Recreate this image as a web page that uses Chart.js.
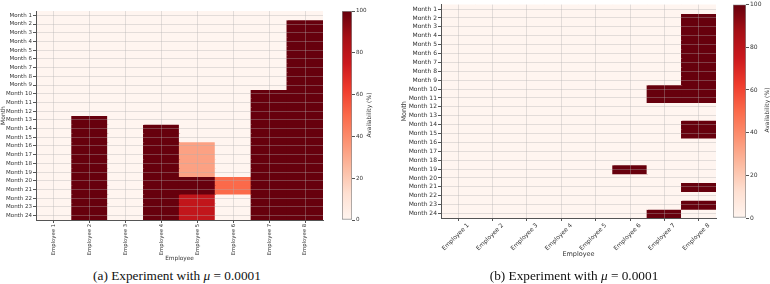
<!DOCTYPE html>
<html>
<head>
<meta charset="utf-8">
<script src="https://cdn.jsdelivr.net/npm/chart.js@4.4.1/dist/chart.umd.min.js"></script>
<style>
    body { margin: 0; background: #fff; width: 770px; height: 284px; position: relative; overflow: hidden; }
    .box { position: absolute; }
    .cbLabel {
        position: absolute; font-family: "DejaVu Sans", sans-serif; font-size: 6px; color: #333;
        transform: translate(-50%, -50%) rotate(-90deg); white-space: nowrap;
    }
    .caption {
        position: absolute; top: 268px; font-family: "Liberation Serif", "DejaVu Serif", serif;
        font-size: 13.3px; color: #111; transform: translateX(-50%); white-space: nowrap;
    }
</style>
</head>
<body>
<div class="box" style="left:0px; top:0px; width:326px; height:262px;"><canvas id="heatA"></canvas></div>
<div class="box" style="left:330px; top:0px; width:38px; height:262px;"><canvas id="barA"></canvas></div>
<div class="cbLabel" style="left:368px; top:115px;">Availability (%)</div>

<div class="box" style="left:400px; top:0px; width:319px; height:258px;"><canvas id="heatB"></canvas></div>
<div class="box" style="left:721px; top:0px; width:41px; height:258px;"><canvas id="barB"></canvas></div>
<div class="cbLabel" style="left:766px; top:110px;">Availability (%)</div>

<div class="caption" style="left:177px;">(a) Experiment with <i>μ</i> = 0.0001</div>
<div class="caption" style="left:574px;">(b) Experiment with <i>μ</i> = 0.0001</div>

<script>
    const months = ["Month 1", "Month 2", "Month 3", "Month 4", "Month 5", "Month 6", "Month 7", "Month 8",
        "Month 9", "Month 10", "Month 11", "Month 12", "Month 13", "Month 14", "Month 15", "Month 16",
        "Month 17", "Month 18", "Month 19", "Month 20", "Month 21", "Month 22", "Month 23", "Month 24"];
    const employees = ["Employee 1", "Employee 2", "Employee 3", "Employee 4",
        "Employee 5", "Employee 6", "Employee 7", "Employee 8"];
    const colorbarTicks = [0, 20, 40, 60, 80, 100];

    // availability (%) per month (rows) and employee (columns), experiment (a)
    const availabilityA = [
        [0, 0, 0, 0, 0, 0, 0, 0],
        [0, 0, 0, 0, 0, 0, 0, 100],
        [0, 0, 0, 0, 0, 0, 0, 100],
        [0, 0, 0, 0, 0, 0, 0, 100],
        [0, 0, 0, 0, 0, 0, 0, 100],
        [0, 0, 0, 0, 0, 0, 0, 100],
        [0, 0, 0, 0, 0, 0, 0, 100],
        [0, 0, 0, 0, 0, 0, 0, 100],
        [0, 0, 0, 0, 0, 0, 0, 100],
        [0, 0, 0, 0, 0, 0, 100, 100],
        [0, 0, 0, 0, 0, 0, 100, 100],
        [0, 0, 0, 0, 0, 0, 100, 100],
        [0, 100, 0, 0, 0, 0, 100, 100],
        [0, 100, 0, 100, 0, 0, 100, 100],
        [0, 100, 0, 100, 0, 0, 100, 100],
        [0, 100, 0, 100, 33, 0, 100, 100],
        [0, 100, 0, 100, 33, 0, 100, 100],
        [0, 100, 0, 100, 33, 0, 100, 100],
        [0, 100, 0, 100, 33, 0, 100, 100],
        [0, 100, 0, 100, 100, 50, 100, 100],
        [0, 100, 0, 100, 100, 50, 100, 100],
        [0, 100, 0, 100, 78, 0, 100, 100],
        [0, 100, 0, 100, 78, 0, 100, 100],
        [0, 100, 0, 100, 78, 0, 100, 100],
    ];

    // experiment (b)
    const availabilityB = [
        [0, 0, 0, 0, 0, 0, 0, 0],
        [0, 0, 0, 0, 0, 0, 0, 100],
        [0, 0, 0, 0, 0, 0, 0, 100],
        [0, 0, 0, 0, 0, 0, 0, 100],
        [0, 0, 0, 0, 0, 0, 0, 100],
        [0, 0, 0, 0, 0, 0, 0, 100],
        [0, 0, 0, 0, 0, 0, 0, 100],
        [0, 0, 0, 0, 0, 0, 0, 100],
        [0, 0, 0, 0, 0, 0, 0, 100],
        [0, 0, 0, 0, 0, 0, 100, 100],
        [0, 0, 0, 0, 0, 0, 100, 100],
        [0, 0, 0, 0, 0, 0, 0, 0],
        [0, 0, 0, 0, 0, 0, 0, 0],
        [0, 0, 0, 0, 0, 0, 0, 100],
        [0, 0, 0, 0, 0, 0, 0, 100],
        [0, 0, 0, 0, 0, 0, 0, 0],
        [0, 0, 0, 0, 0, 0, 0, 0],
        [0, 0, 0, 0, 0, 0, 0, 0],
        [0, 0, 0, 0, 0, 100, 0, 0],
        [0, 0, 0, 0, 0, 0, 0, 0],
        [0, 0, 0, 0, 0, 0, 0, 100],
        [0, 0, 0, 0, 0, 0, 0, 0],
        [0, 0, 0, 0, 0, 0, 0, 100],
        [0, 0, 0, 0, 0, 0, 100, 0],
    ];

    // matplotlib "Reds" colormap stops
    const REDS = [
        [255, 245, 240], [254, 224, 210], [252, 187, 161], [252, 146, 114], [251, 106, 74],
        [239, 59, 44], [203, 24, 29], [165, 15, 21], [103, 0, 13]
    ];

    function reds(v) {
        const t = Math.min(Math.max(v / 100, 0), 1) * (REDS.length - 1);
        const i = Math.min(Math.floor(t), REDS.length - 2);
        const f = t - i;
        const c = REDS[i].map((a, k) => Math.round(a + (REDS[i + 1][k] - a) * f));
        return `rgb(${c[0]}, ${c[1]}, ${c[2]})`;
    }

    const TEXT = "#333";
    const AXIS = "#555";
    const GRID = "rgba(175, 175, 175, 0.35)";
    const FONT = "DejaVu Sans";

    function makeHeatmap(id, grid, s) {
        // one stacked dataset per month row, each cell one unit high
        const datasets = months.map((m, i) => ({
            label: m,
            data: employees.map(() => 1),
            backgroundColor: grid[i].map(v => reds(v)),
            borderWidth: 0,
            inflateAmount: 0.6,
            barPercentage: 1,
            categoryPercentage: 1,
        }));

        new Chart(document.getElementById(id), {
            type: "bar",
            data: {labels: employees, datasets: datasets},
            options: {
                responsive: true,
                maintainAspectRatio: false,
                animation: false,
                devicePixelRatio: 1,
                layout: {padding: {top: s.top, right: 3, left: 0, bottom: 0}},
                plugins: {legend: {display: false}, tooltip: {enabled: false}},
                scales: {
                    x: {
                        stacked: true,
                        offset: true,
                        grid: {offset: false, z: 1, color: GRID, tickColor: AXIS, tickLength: 3},
                        border: {color: AXIS, z: 2},
                        ticks: {
                            minRotation: s.rot, maxRotation: s.rot, autoSkip: false, color: TEXT,
                            labelOffset: s.labelOffset, padding: 1,
                            font: {family: FONT, size: s.xFont},
                        },
                        title: {display: true, text: "Employee", color: TEXT, padding: 0, font: {family: FONT, size: s.xFont + 0.5}},
                        afterFit: (scale) => { scale.height = s.xHeight; },
                    },
                    y: {
                        type: "linear",
                        stacked: true,
                        reverse: true,
                        min: 0,
                        max: months.length,
                        afterBuildTicks: (scale) => { scale.ticks = months.map((m, i) => ({value: i + 0.5})); },
                        grid: {z: 1, color: GRID, tickColor: AXIS, tickLength: 3},
                        border: {color: AXIS, z: 2},
                        ticks: {
                            autoSkip: false, color: TEXT, padding: 1,
                            font: {family: FONT, size: s.yFont},
                            callback: (v, i) => months[i],
                        },
                        title: {display: true, text: "Month", color: TEXT, padding: 0, font: {family: FONT, size: s.yFont + 0.5}},
                        afterFit: (scale) => { scale.width = s.yWidth; },
                    },
                },
            },
        });
    }

    function makeColorbar(id, s) {
        new Chart(document.getElementById(id), {
            type: "bar",
            data: {
                labels: [""],
                datasets: [{
                    data: [[0, 100]],
                    backgroundColor: (c) => {
                        const area = c.chart.chartArea;
                        if (!area) return null;
                        const g = c.chart.ctx.createLinearGradient(0, area.bottom, 0, area.top);
                        REDS.forEach((col, i) => g.addColorStop(i / (REDS.length - 1), `rgb(${col.join(",")})`));
                        return g;
                    },
                    borderColor: "#888",
                    borderWidth: 1,
                    borderSkipped: false,
                    barPercentage: 1,
                    categoryPercentage: 1,
                }],
            },
            options: {
                responsive: true,
                maintainAspectRatio: false,
                animation: false,
                devicePixelRatio: 1,
                layout: {padding: {top: s.top, left: 12, right: 0, bottom: s.bottom}},
                plugins: {legend: {display: false}, tooltip: {enabled: false}},
                scales: {
                    x: {display: false},
                    y: {
                        position: "right",
                        min: 0,
                        max: 100,
                        afterBuildTicks: (scale) => { scale.ticks = colorbarTicks.map(v => ({value: v})); },
                        grid: {drawOnChartArea: false, tickColor: AXIS, tickLength: 3},
                        border: {display: false},
                        ticks: {color: TEXT, padding: 1, font: {family: FONT, size: s.font}},
                        afterFit: (scale) => { scale.width = 16; },
                    },
                },
            },
        });
    }

    makeHeatmap("heatA", availabilityA, {top: 11, rot: 90, labelOffset: 0, xFont: 5.3, yFont: 5.5, xHeight: 42, yWidth: 36});
    makeHeatmap("heatB", availabilityB, {top: 2, rot: 45, labelOffset: 10, xFont: 6, yFont: 6, xHeight: 40, yWidth: 41});
    makeColorbar("barA", {top: 11, bottom: 42, font: 5.6});
    makeColorbar("barB", {top: 2, bottom: 40, font: 6});
</script>
</body>
</html>
